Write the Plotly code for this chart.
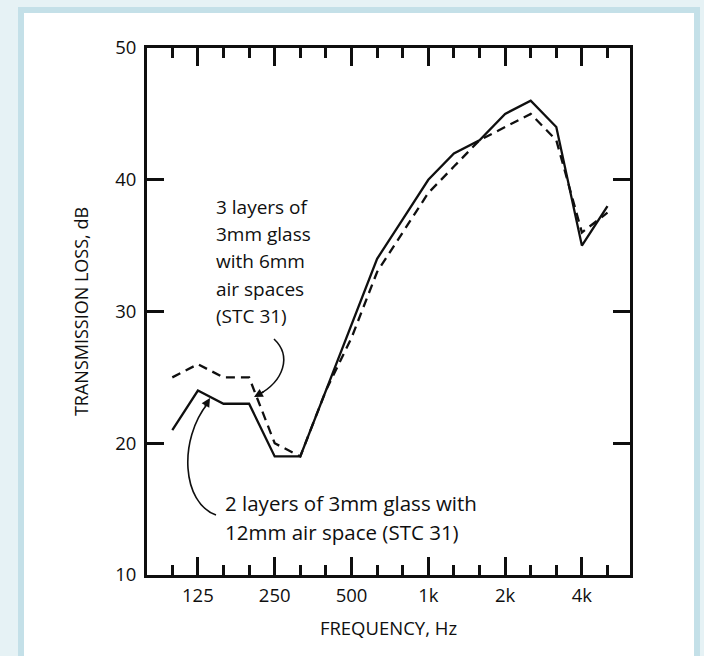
import plotly.graph_objects as go

# ---- data ----
freqs = [100, 125, 160, 200, 250, 315, 400, 500, 630, 800,
         1000, 1250, 1600, 2000, 2500, 3150, 4000, 5000]
labeled_freqs = [125, 250, 500, 1000, 2000, 4000]
tick_labels = ["125", "250", "500", "1k", "2k", "4k"]
two_layers = [21, 24, 23, 23, 19, 19, 24, 29, 34, 37,
              40, 42, 43, 45, 46, 44, 35, 38]
three_layers = [25, 26, 25, 25, 20, 19, 24, 28, 33, 36,
                39, 41, 43, 44, 45, 43, 36, 37.5]
note_three = ["3 layers of", "3mm glass", "with 6mm", "air spaces", "(STC 31)"]
note_two = ["2 layers of 3mm glass with", "12mm air space (STC 31)"]

band_pos = list(range(len(freqs)))
major_pos = [freqs.index(f) for f in labeled_freqs]
minor_pos = [i for i in band_pos if i not in major_pos]

FONT = "Open Sans, Noto Sans, sans-serif"
INK = "#0f0f0f"

# pixel helpers for annotation decoration (plot area 147..630 x 48..575)
def px2x(px):
    return (px - 172.3) / 25.6

def py2y(py):
    return 50 - (py - 48) / 13.175

fig = go.Figure()
fig.add_trace(go.Scatter(x=band_pos, y=three_layers, mode="lines",
                         line=dict(color=INK, width=2.3, dash="9px,6px"),
                         hoverinfo="skip"))
fig.add_trace(go.Scatter(x=band_pos, y=two_layers, mode="lines",
                         line=dict(color=INK, width=2.3),
                         hoverinfo="skip"))

shapes = []
# white panel with light-blue frame
W, H = 704, 656
pl, pr, pt, pb = 147, 630, 48, 575
def fx(px):
    return (px - pl) / (pr - pl)
def fy(py):
    return (pb - py) / (pb - pt)
shapes.append(dict(type="rect", xref="paper", yref="paper",
                   x0=fx(21), x1=fx(697), y0=fy(680), y1=fy(10),
                   fillcolor="white", line=dict(color="#c4e0e8", width=6),
                   layer="below"))

# curved arrows
def path_from(points):
    (x0, y0), (x1, y1), (x2, y2), (x3, y3) = points
    return (f"M {px2x(x0)},{py2y(y0)} C {px2x(x1)},{py2y(y1)} "
            f"{px2x(x2)},{py2y(y2)} {px2x(x3)},{py2y(y3)}")

arrow_a = [(274, 339), (292, 356), (284, 381), (258, 395)]
arrow_b = [(216, 515), (182, 503), (178, 440), (208, 403)]
for pts in (arrow_a, arrow_b):
    shapes.append(dict(type="path", xref="x", yref="y", path=path_from(pts),
                       line=dict(color=INK, width=1.6)))

annotations = []
# arrowheads
annotations.append(dict(x=px2x(254), y=py2y(397), xref="x", yref="y",
                        ax=11, ay=-6, axref="pixel", ayref="pixel",
                        text="", showarrow=True, arrowhead=2, arrowsize=1.1,
                        arrowwidth=1.6, arrowcolor=INK))
annotations.append(dict(x=px2x(210), y=py2y(398), xref="x", yref="y",
                        ax=-6, ay=10, axref="pixel", ayref="pixel",
                        text="", showarrow=True, arrowhead=2, arrowsize=1.1,
                        arrowwidth=1.6, arrowcolor=INK))

for i, line in enumerate(note_three):
    annotations.append(dict(x=px2x(214), y=py2y(207), xref="x", yref="y",
                            yshift=-27.2 * i, text=line, showarrow=False,
                            xanchor="left", yanchor="middle", align="left",
                            font=dict(family=FONT, size=19, color=INK)))
for i, line in enumerate(note_two):
    annotations.append(dict(x=px2x(223), y=py2y(503), xref="x", yref="y",
                            yshift=-29 * i, text=line, showarrow=False,
                            xanchor="left", yanchor="middle", align="left",
                            font=dict(family=FONT, size=20.5, color=INK)))

axis_common = dict(showline=True, linecolor=INK, linewidth=2.8, mirror="allticks",
                   ticks="inside", tickcolor=INK, tickwidth=2.5, showgrid=False,
                   zeroline=False,
                   tickfont=dict(family=FONT, size=18.5, color=INK))

fig.update_layout(
    width=W, height=H,
    margin=dict(l=pl, r=W - pr, t=pt, b=H - pb, pad=0),
    paper_bgcolor="#e6f2f5",
    plot_bgcolor="white",
    showlegend=False,
    shapes=shapes,
    annotations=annotations,
    xaxis=dict(range=[px2x(pl), px2x(pr)], tickmode="array",
               tickvals=major_pos, ticktext=tick_labels, ticklen=18,
               minor=dict(tickmode="array", tickvals=minor_pos, ticks="inside",
                          ticklen=10, tickwidth=2.5, tickcolor=INK),
               title=dict(text="FREQUENCY, Hz", standoff=16,
                          font=dict(family=FONT, size=18.5, color=INK)),
               ticklabelstandoff=2,
               **axis_common),
    yaxis=dict(range=[10, 50], tickmode="array", tickvals=[10, 20, 30, 40, 50],
               ticklen=17,
               title=dict(text="TRANSMISSION LOSS, dB", standoff=22,
                          font=dict(family=FONT, size=18, color=INK)),
               ticklabelstandoff=4,
               **axis_common),
)

fig.write_html("out.html",
               config={"displayModeBar": False},
               post_script="document.body.style.margin='0';"
                           "document.body.style.overflow='hidden';")
